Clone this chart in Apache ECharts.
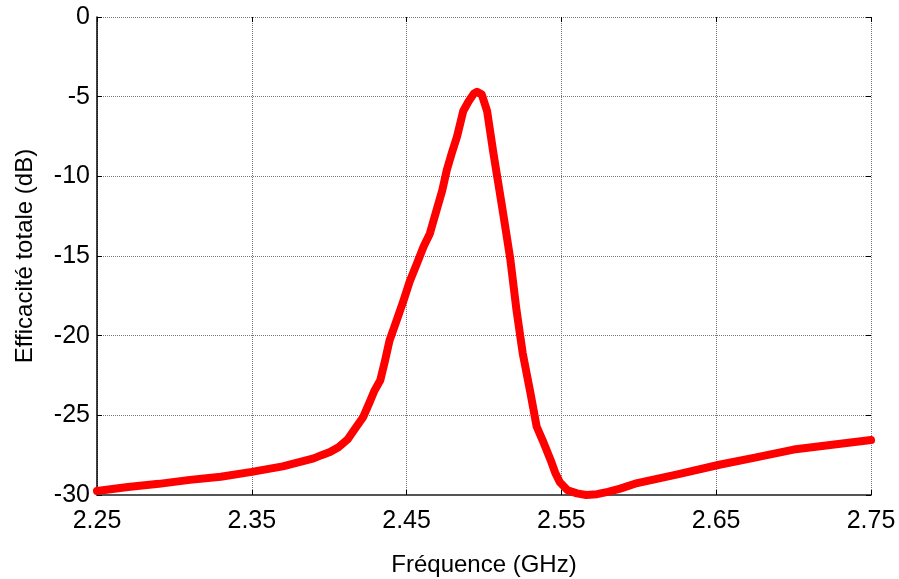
<!DOCTYPE html>
<html>
<head>
<meta charset="utf-8">
<script src="https://cdn.jsdelivr.net/npm/echarts@6/dist/echarts.min.js"></script>
<style>
html,body{margin:0;padding:0;background:#fff;}
#chart{width:899px;height:579px;}
</style>
</head>
<body>
<div id="chart"></div>
<script>
const freq = [2.25, 2.27, 2.29, 2.31, 2.33, 2.35, 2.37, 2.38, 2.39, 2.395, 2.4005, 2.406, 2.412, 2.417, 2.422, 2.426, 2.429, 2.433, 2.436, 2.439, 2.443, 2.448, 2.452, 2.457, 2.461, 2.465, 2.470, 2.473, 2.476, 2.479, 2.4826, 2.4866, 2.490, 2.4935, 2.4955, 2.4985, 2.502, 2.506, 2.509, 2.512, 2.517, 2.521, 2.525, 2.530, 2.534, 2.538, 2.543, 2.546, 2.549, 2.554, 2.560, 2.566, 2.573, 2.580, 2.588, 2.599, 2.625, 2.652, 2.675, 2.70, 2.725, 2.75];
const efficiency = [-29.75, -29.5, -29.3, -29.05, -28.85, -28.55, -28.2, -27.95, -27.7, -27.5, -27.3, -27.0, -26.5, -25.8, -25.1, -24.2, -23.5, -22.8, -21.6, -20.3, -19.2, -17.8, -16.6, -15.4, -14.4, -13.6, -11.9, -10.9, -9.6, -8.6, -7.5, -5.9, -5.3, -4.8, -4.7, -4.85, -5.9, -8.5, -10.3, -12.1, -15.2, -18.4, -21.1, -23.6, -25.7, -26.6, -27.8, -28.6, -29.2, -29.7, -29.9, -30.0, -29.95, -29.8, -29.6, -29.25, -28.7, -28.1, -27.65, -27.15, -26.85, -26.55];
const xTicks = [2.25, 2.35, 2.45, 2.55, 2.65, 2.75];
const yTicks = [-30, -25, -20, -15, -10, -5, 0];
const xTitle = 'Fréquence (GHz)';
const yTitle = 'Efficacité totale (dB)';

const chart = echarts.init(document.getElementById('chart'));
const font = 'Liberation Sans, Arial, sans-serif';
const grid = {type:'dotted', color:'#777', width:1};
chart.setOption({
  animation:false,
  grid:{left:97, right:28, top:17, bottom:84, containLabel:false, outerBoundsMode:'none'},
  xAxis:[{
    type:'value', min:xTicks[0], max:xTicks[xTicks.length-1], interval:0.1,
    name:xTitle, nameLocation:'middle', nameGap:58,
    nameTextStyle:{fontFamily:font, fontSize:24, color:'#000'},
    axisLine:{show:true, onZero:false, lineStyle:{color:'#555', width:2}},
    axisTick:{show:true, inside:true, length:5, lineStyle:{color:'#000'}},
    axisLabel:{fontFamily:font, fontSize:25, color:'#000', margin:14,
      formatter:v=>v.toFixed(2)},
    splitLine:{show:true, lineStyle:grid}
  },{
    type:'value', position:'top', min:xTicks[0], max:xTicks[xTicks.length-1], interval:0.1,
    axisLine:{show:false}, axisLabel:{show:false}, splitLine:{show:false},
    axisTick:{show:true, inside:true, length:5, lineStyle:{color:'#000'}}
  }],
  yAxis:[{
    type:'value', min:yTicks[0], max:yTicks[yTicks.length-1], interval:5,
    name:yTitle, nameLocation:'middle', nameGap:60,
    nameTextStyle:{fontFamily:font, fontSize:24, color:'#000'},
    axisLine:{show:true, onZero:false, lineStyle:{color:'#000', width:1.5}},
    axisTick:{show:true, inside:true, length:5, lineStyle:{color:'#000'}},
    axisLabel:{fontFamily:font, fontSize:25, color:'#000', margin:7},
    splitLine:{show:true, lineStyle:grid}
  },{
    type:'value', position:'right', min:yTicks[0], max:yTicks[yTicks.length-1], interval:5,
    axisLine:{show:false}, axisLabel:{show:false}, splitLine:{show:false},
    axisTick:{show:true, inside:true, length:5, lineStyle:{color:'#000'}}
  }],
  series:[{
    type:'line', xAxisIndex:0, yAxisIndex:0,
    data:freq.map((f,i)=>[f, efficiency[i]]),
    showSymbol:false, clip:false, smooth:false,
    lineStyle:{color:'#ff0000', width:8, cap:'round', join:'round'}
  }]
});
</script>
</body>
</html>
